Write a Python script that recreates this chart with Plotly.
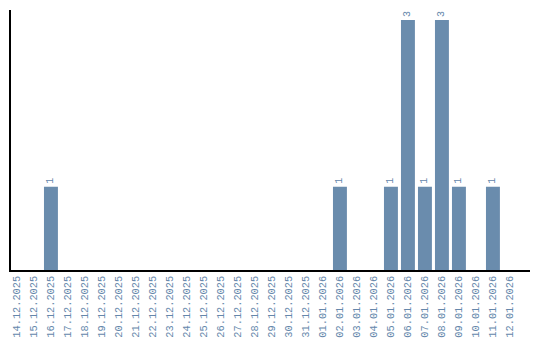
import plotly.graph_objects as go

dates = ["14.12.2025","15.12.2025","16.12.2025","17.12.2025","18.12.2025","19.12.2025",
         "20.12.2025","21.12.2025","22.12.2025","23.12.2025","24.12.2025","25.12.2025",
         "26.12.2025","27.12.2025","28.12.2025","29.12.2025","30.12.2025","31.12.2025",
         "01.01.2026","02.01.2026","03.01.2026","04.01.2026","05.01.2026","06.01.2026",
         "07.01.2026","08.01.2026","09.01.2026","10.01.2026","11.01.2026","12.01.2026"]
counts = [0,0,1,0,0,0,0,0,0,0,0,0,0,0,0,0,0,0,0,1,0,0,1,3,1,3,1,0,1,0]
labels = [str(c) if c else "" for c in counts]

bar_color = "#6a8cad"
text_color = "#6587ab"
font = "Liberation Mono"

fig = go.Figure(go.Bar(
    x=dates, y=counts, text=labels, textposition="outside",
    textangle=-90, cliponaxis=False,
    marker=dict(color=bar_color, line=dict(width=0)),
    textfont=dict(family=font, size=10, color=text_color),
))
fig.update_layout(
    width=540, height=340,
    margin=dict(l=11, r=10, t=10, b=70),
    plot_bgcolor="white", paper_bgcolor="white",
    bargap=0.18, showlegend=False,
    uniformtext=dict(minsize=1, mode=False),
)
fig.update_xaxes(type="category", range=[-0.35, 30.18], automargin=False, tickangle=-90,
                 showline=True, linecolor="black", linewidth=1.5,
                 showgrid=False, ticks="", tickfont=dict(family=font, size=10.3, color=text_color))
fig.update_yaxes(range=[0, 3.12], automargin=False, showline=True, linecolor="black", linewidth=1.5,
                 showgrid=False, showticklabels=False, ticks="", zeroline=False)
fig.write_html("out.html")
